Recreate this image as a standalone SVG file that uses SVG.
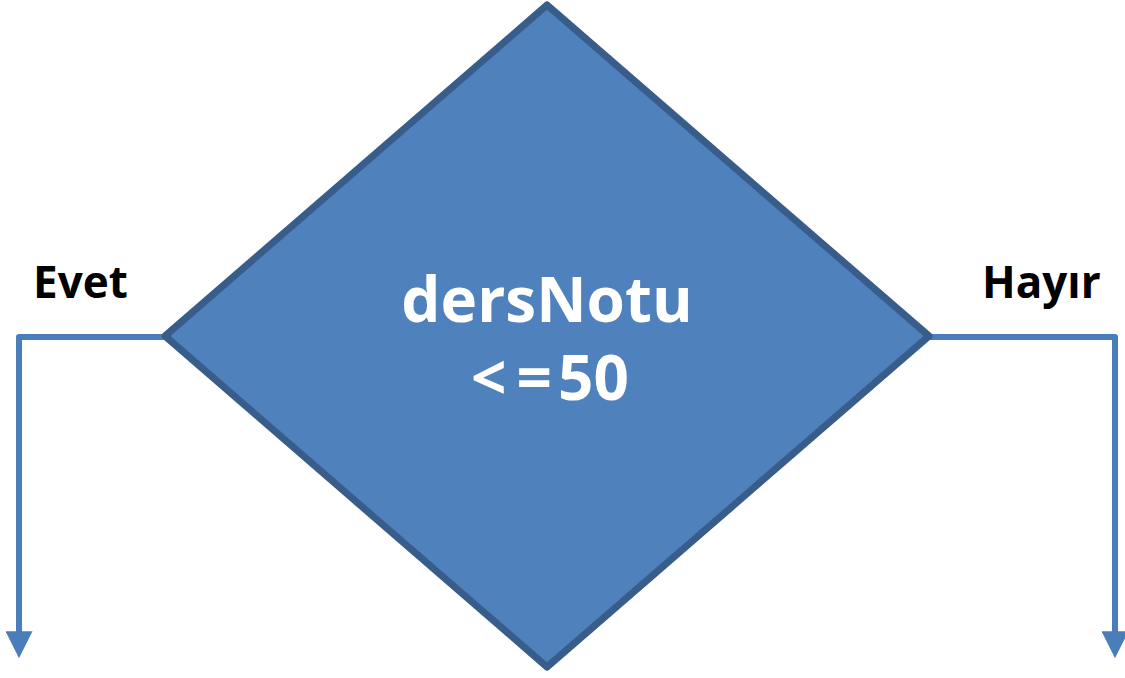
<svg xmlns="http://www.w3.org/2000/svg" width="1125" height="678" viewBox="0 0 1125 678">
<defs>
<style>
.lbl{font-family:"Open Sans","Noto Sans","Liberation Sans",sans-serif;font-weight:bold;fill:#000;font-size:44px}
.ctext{font-family:"Open Sans","Noto Sans","Liberation Sans",sans-serif;font-weight:bold;fill:#fff;font-size:62px;text-anchor:middle}
.conn{fill:none;stroke:#4A7EBB;stroke-width:6;stroke-linejoin:round}
</style>
<marker id="arr" viewBox="0 0 10 10" refX="4" refY="5" markerWidth="4.5" markerHeight="4.5" orient="auto" markerUnits="strokeWidth">
<path d="M0,0 L10,5 L0,10 z" fill="#4A7EBB"/>
</marker>
</defs>
<g id="connectors">
<path class="conn" d="M165,337 H19 V642" marker-end="url(#arr)"/>
<path class="conn" d="M929,337 H1115 V642" marker-end="url(#arr)"/>
</g>
<g id="decision">
<polygon points="547,5 929,336 547,667 165,336" fill="#4F81BD" stroke="#385D8A" stroke-width="7" stroke-linejoin="round"/>
<text class="ctext" x="547" y="322">dersNotu</text>
<text class="ctext" x="550" y="400">&lt;<tspan dx="10">=</tspan><tspan dx="6">50</tspan></text>
</g>
<g id="label-evet"><text class="lbl" x="33" y="298">Evet</text></g>
<g id="label-hayir"><text class="lbl" x="982" y="298">Hayır</text></g>
</svg>
